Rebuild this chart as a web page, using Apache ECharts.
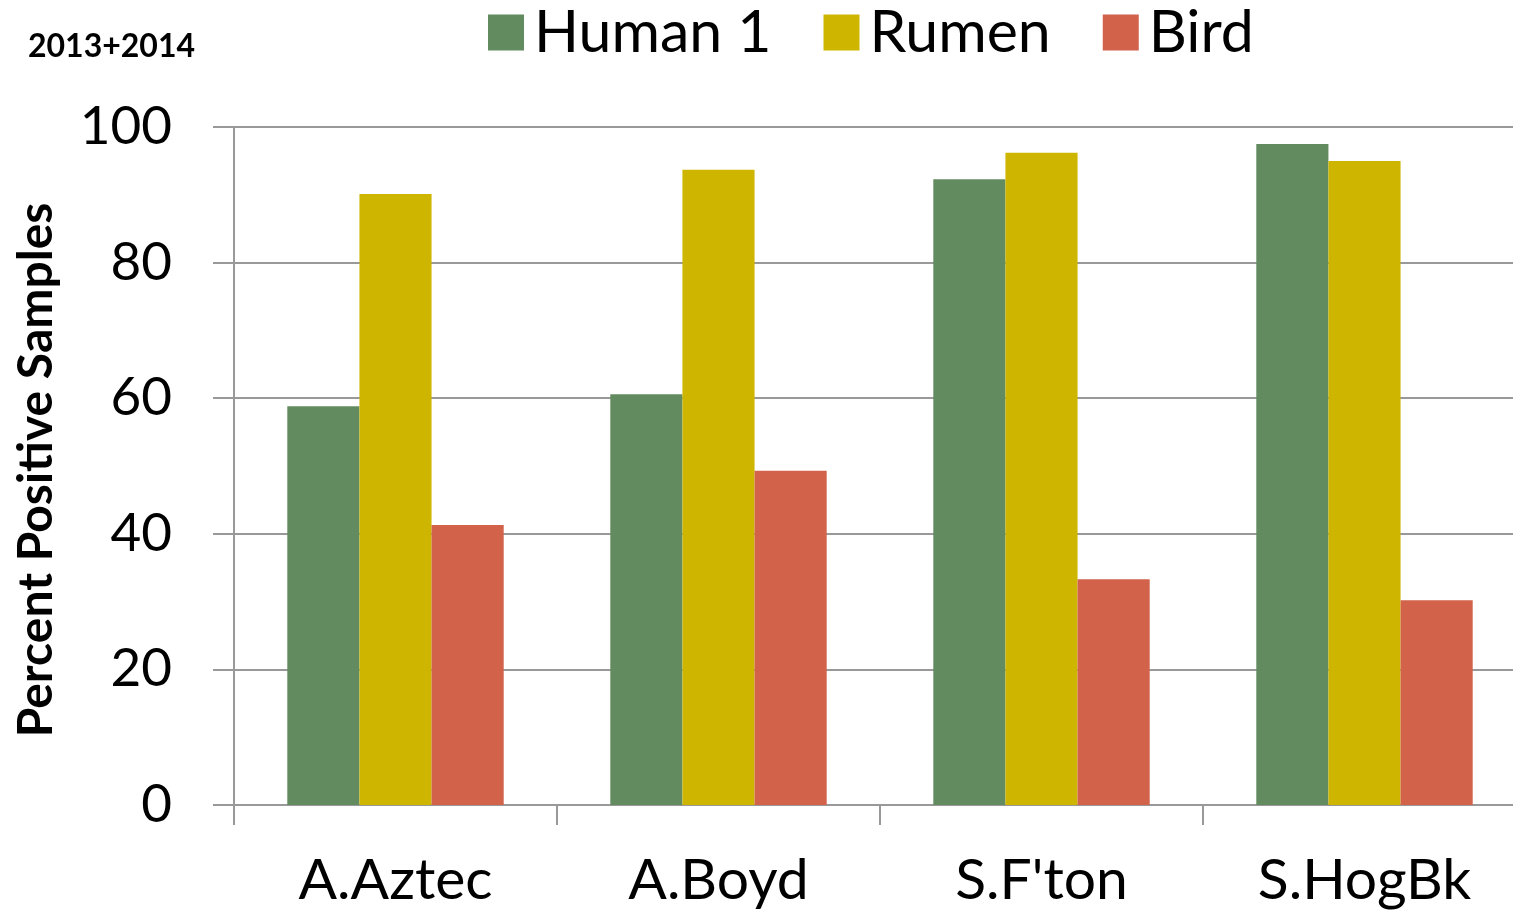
<!DOCTYPE html>
<html><head><meta charset="utf-8">
<script src="https://cdn.jsdelivr.net/npm/echarts@6/dist/echarts.min.js"></script>
<style>html,body{margin:0;padding:0;background:#fff}#c{width:1513px;height:911px}</style>
</head><body><div id="c"></div>
<script>
var categories = ["A.Aztec", "A.Boyd", "S.F'ton", "S.HogBk"];
var human1 = [58.8, 60.6, 92.3, 97.5];
var rumen = [90.1, 93.7, 96.2, 95.0];
var bird = [41.3, 49.3, 33.3, 30.2];
var yTicks = [0, 20, 40, 60, 80, 100];

var FONT = 'Lato';
var chart = echarts.init(document.getElementById('c'));
chart.setOption({
  animation: false,
  textStyle: {fontFamily: FONT},
  graphic: [
    {type: 'text', left: 28, top: 31, style: {text: '2013+2014', font: 'bold 32px ' + FONT, fill: '#000'}},
    {type: 'text', x: 37, y: 470, rotation: Math.PI / 2,
     style: {text: 'Percent Positive Samples', font: 'bold 48px ' + FONT, fill: '#000', textAlign: 'center', textVerticalAlign: 'middle'}}
  ],
  legend: {
    top: -2, left: 483,
    icon: 'rect',
    itemWidth: 36, itemHeight: 36, itemGap: 52,
    textStyle: {fontSize: 59, color: '#000', fontFamily: FONT, padding: [0, 0, 0, 5]},
    data: ['Human 1', 'Rumen', 'Bird']
  },
  grid: {left: 234, top: 127, bottom: 106, width: 1292, containLabel: false, outerBoundsMode: 'none'},
  xAxis: {
    type: 'category', data: categories,
    axisLine: {show: true, lineStyle: {color: '#999', width: 2}},
    axisTick: {show: true, length: 20, alignWithLabel: false, lineStyle: {color: '#999', width: 2}},
    axisLabel: {fontSize: 57, color: '#000', margin: 47, fontFamily: FONT}
  },
  yAxis: {
    type: 'value', min: 0, max: 100, interval: 20,
    axisLine: {show: true, lineStyle: {color: '#999', width: 2}},
    axisTick: {show: true, length: 21, lineStyle: {color: '#999', width: 2}},
    splitLine: {show: true, lineStyle: {color: '#999', width: 2}},
    axisLabel: {fontSize: 53, color: '#000', margin: 62, fontFamily: FONT,
      formatter: function (v) { return yTicks.indexOf(v) >= 0 ? String(v) : ''; }}
  },
  series: [
    {name: 'Human 1', type: 'bar', data: human1, itemStyle: {color: '#628C5F'}, barGap: '0%', barCategoryGap: '33%'},
    {name: 'Rumen', type: 'bar', data: rumen, itemStyle: {color: '#CDB500'}, barGap: '0%', barCategoryGap: '33%'},
    {name: 'Bird', type: 'bar', data: bird, itemStyle: {color: '#D2624A'}, barGap: '0%', barCategoryGap: '33%'}
  ]
});
</script></body></html>
